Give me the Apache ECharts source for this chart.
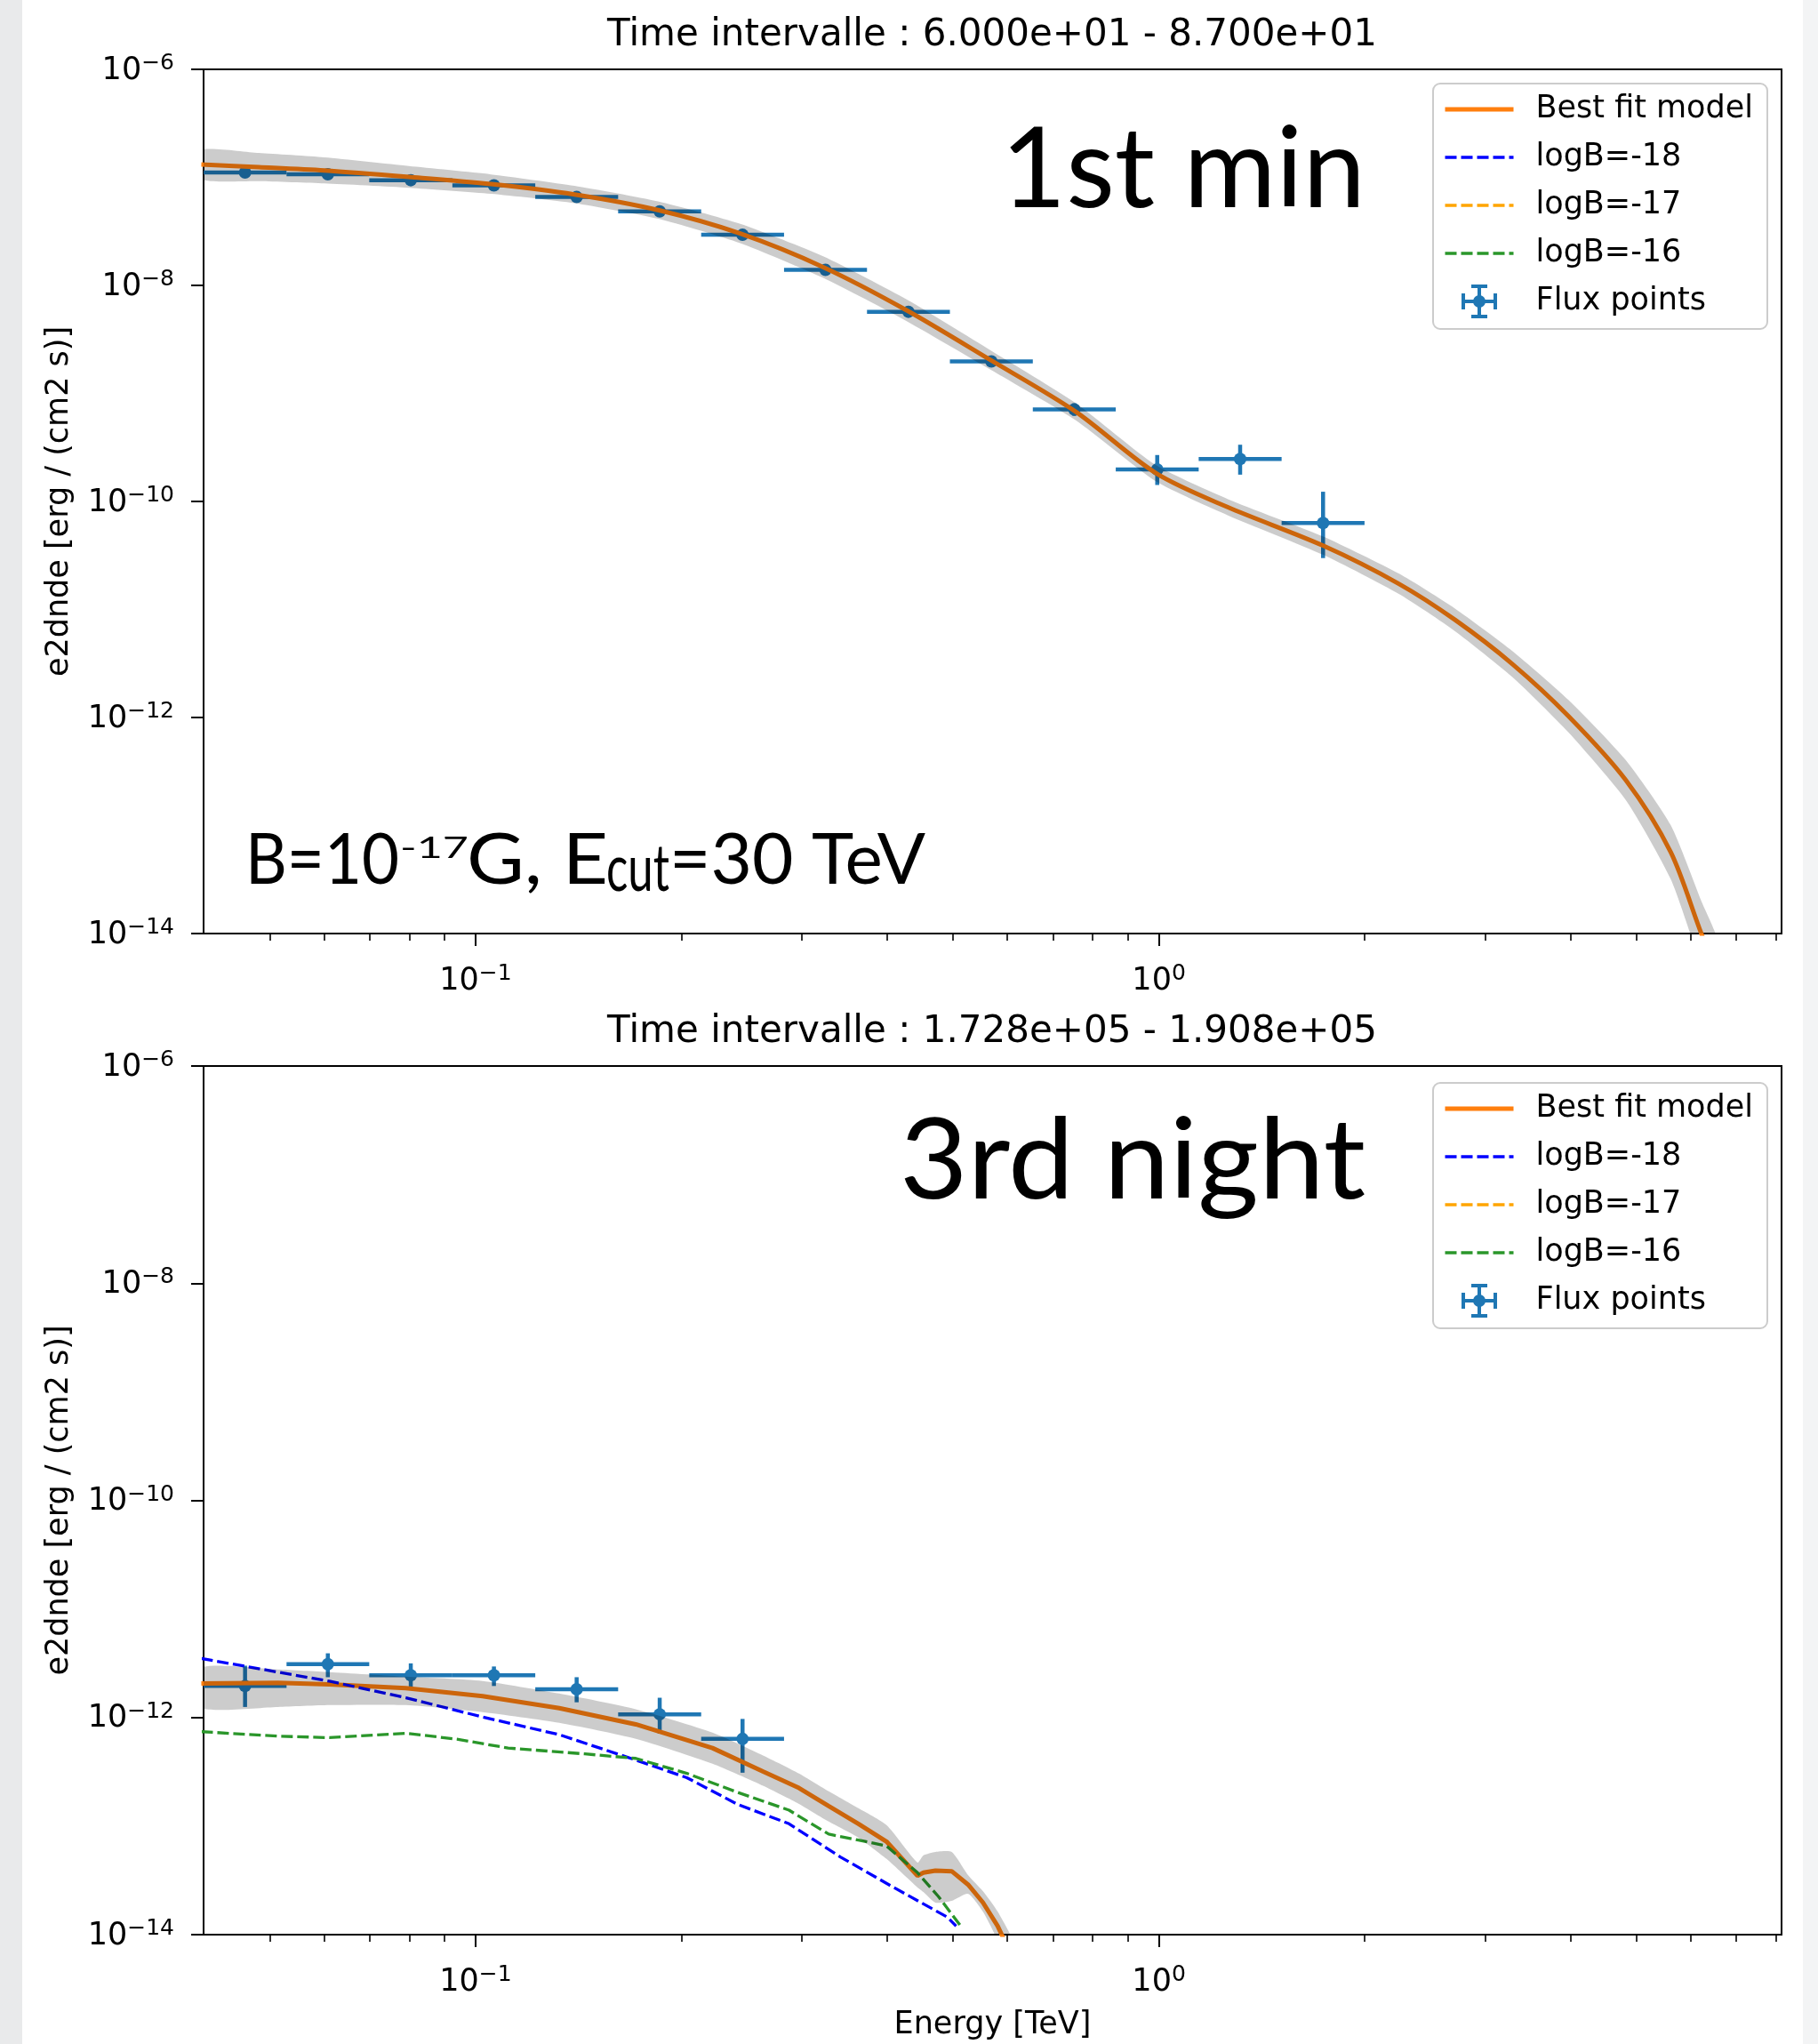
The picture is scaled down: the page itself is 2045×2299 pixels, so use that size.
<!DOCTYPE html>
<html>
<head>
<meta charset="utf-8">
<script src="https://cdn.jsdelivr.net/npm/echarts@6.0.0/dist/echarts.min.js"></script>
<style>
html,body{margin:0;padding:0;background:#ffffff;}
#chart{width:2045px;height:2299px;}
</style>
</head>
<body>
<div id="chart"></div>
<script>
// ---------------- data ----------------
// energy bins [TeV]
const binLo = [0.0400,0.0529,0.0699,0.0925,0.1223,0.1617,0.2139,0.2828,0.3740,0.4945,0.6539,0.8647,1.1435,1.5121];
const binHi = [0.0529,0.0699,0.0925,0.1223,0.1617,0.2139,0.2828,0.3740,0.4945,0.6539,0.8647,1.1435,1.5121,1.9995];
const binCenter = [0.0460,0.0608,0.0804,0.1064,0.1406,0.1860,0.2459,0.3252,0.4300,0.5687,0.7520,0.9944,1.3149,1.7388];

// panel 1 : 60 - 87 s (1st min) flux points
const fluxMin   = [1.11e-7,1.07e-7,9.42e-8,8.43e-8,6.58e-8,4.84e-8,2.94e-8,1.39e-8,5.70e-9,1.98e-9,7.10e-10,1.98e-10,2.47e-10,6.32e-11];
const fluxMinLo = [1.07e-7,1.03e-7,9.00e-8,8.05e-8,6.25e-8,4.58e-8,2.76e-8,1.29e-8,5.20e-9,1.78e-9,6.20e-10,1.42e-10,1.77e-10,2.99e-11];
const fluxMinHi = [1.15e-7,1.11e-7,9.85e-8,8.82e-8,6.92e-8,5.11e-8,3.13e-8,1.50e-8,6.25e-9,2.20e-9,8.10e-10,2.69e-10,3.35e-10,1.23e-10];

// panel 1 best fit model and its error band
const modelMinE  = [0.0397,0.0482,0.0601,0.0799,0.1054,0.1396,0.185,0.244,0.3232,0.428,0.567,0.755,0.991,1.262,1.74,2.244,2.712,3.29,3.975,4.823,5.61,6.22,6.6];
const modelMinF  = [1.315e-7,1.245e-7,1.16e-7,1.01e-7,8.67e-8,6.95e-8,4.98e-8,3.02e-8,1.47e-8,5.86e-9,2.04e-9,6.8e-10,1.82e-10,8.83e-11,3.89e-11,1.73e-11,8.02e-12,3.13e-12,1.03e-12,2.63e-13,5.67e-14,1.0e-14,4e-15];
const bandMinLo  = [9.63e-8,9.23e-8,8.80e-8,8.02e-8,7.05e-8,5.78e-8,4.14e-8,2.46e-8,1.168e-8,4.65e-9,1.66e-9,5.66e-10,1.53e-10,7.43e-11,3.2e-11,1.39e-11,6.3e-12,2.37e-12,7.29e-13,1.72e-13,3.19e-14,5.0e-15,2e-15];
const bandMinHi  = [1.795e-7,1.68e-7,1.529e-7,1.272e-7,1.066e-7,8.35e-8,5.99e-8,3.71e-8,1.85e-8,7.38e-9,2.51e-9,8.17e-10,2.16e-10,1.05e-10,4.73e-11,2.15e-11,1.02e-11,4.13e-12,1.455e-12,4.03e-13,1.008e-13,2.0e-14,8e-15];

// panel 2 : 1.728e5 - 1.908e5 s (3rd night) flux points (first 7 bins)
const fluxNight   = [1.95e-12,3.10e-12,2.45e-12,2.45e-12,1.82e-12,1.07e-12,6.35e-13];
const fluxNightLo = [1.25e-12,2.35e-12,1.85e-12,1.95e-12,1.38e-12,7.10e-13,3.10e-13];
const fluxNightHi = [3.00e-12,3.90e-12,3.15e-12,2.95e-12,2.35e-12,1.52e-12,9.70e-13];

// panel 2 best fit model and band
const modelNightE = [0.0397,0.0514,0.0611,0.0791,0.1024,0.1326,0.1716,0.2222,0.2639,0.2974,0.3287,0.3633,0.3994,0.4434,0.4523,0.471,0.4975,0.5257,0.5526,0.5809,0.62];
const modelNightF = [2.06e-12,2.09e-12,2.02e-12,1.86e-12,1.57e-12,1.22e-12,8.65e-13,5.23e-13,3.16e-13,2.24e-13,1.53e-13,1.05e-13,7.2e-14,3.49e-14,3.72e-14,3.89e-14,3.84e-14,2.89e-14,1.98e-14,1.2e-14,5e-15];
const bandNightLo = [1.23e-12,1.25e-12,1.30e-12,1.30e-12,1.12e-12,8.93e-13,6.36e-13,3.75e-13,2.34e-13,1.60e-13,1.10e-13,7.82e-14,4.98e-14,2.72e-14,2.47e-14,1.97e-14,2.05e-14,2.38e-14,1.63e-14,8.77e-15,3e-15];
const bandNightHi = [2.88e-12,2.77e-12,2.62e-12,2.38e-12,2.17e-12,1.66e-12,1.19e-12,7.26e-13,4.45e-13,3.05e-13,2.09e-13,1.46e-13,1.02e-13,4.61e-14,5.37e-14,5.78e-14,5.78e-14,3.54e-14,2.52e-14,1.63e-14,7.2e-15];

// panel 2 template curves
const blueNightE  = [0.0397,0.0611,0.0791,0.1024,0.1326,0.1716,0.2038,0.2421,0.2876,0.3418,0.4059,0.4903,0.505];
const blueNightF  = [3.49e-12,2.16e-12,1.52e-12,1.01e-12,6.95e-13,4.06e-13,2.79e-13,1.58e-13,1.05e-13,5.2e-14,2.8e-14,1.45e-14,1.2e-14];
const greenNightE = [0.0397,0.0514,0.0611,0.0791,0.0939,0.1116,0.1445,0.1716,0.2038,0.2421,0.2876,0.3287,0.3633,0.3994,0.4434,0.4756,0.5128];
const greenNightF = [7.4e-13,6.73e-13,6.52e-13,7.16e-13,6.31e-13,5.23e-13,4.62e-13,4.2e-13,3.06e-13,2.04e-13,1.4e-13,8.43e-14,7.43e-14,6.56e-14,3.72e-14,2.25e-14,1.2e-14];

// axes / ticks
const xMin = 0.04, xMax = 8.15;
const yMin = 1e-14, yMax = 1e-6;
const xMajorTicks = [0.1, 1];
const xMinorTicks = [0.05,0.06,0.07,0.08,0.09,0.2,0.3,0.4,0.5,0.6,0.7,0.8,0.9,2,3,4,5,6,7,8];
const yMajorTicks = [1e-14,1e-12,1e-10,1e-8,1e-6];

const titles = ['Time intervalle : 6.000e+01 - 8.700e+01','Time intervalle : 1.728e+05 - 1.908e+05'];
const legendNames = ['Best fit model','logB=-18','logB=-17','logB=-16','Flux points'];

// ---------------- chart ----------------
const FONT = 'DejaVu Sans';
const ANN = 'Lato';
const BLUE = '#1f77b4';
const chart = echarts.init(document.getElementById('chart'), null, {renderer:'canvas', width:2045, height:2299});

function powLabel(v){
  const e = Math.round(Math.log10(v));
  return '{b|10}{s|' + (e < 0 ? '\u2212' + (-e) : String(e)) + '}';
}
const rich = {
  b:{fontFamily:FONT, fontSize:35, lineHeight:38, color:'#000', verticalAlign:'bottom'},
  s:{fontFamily:FONT, fontSize:25, lineHeight:24, color:'#000', verticalAlign:'top'}
};
const yTickVals = yMajorTicks.map((v,i)=> i===0 ? v*1.000001 : (i===yMajorTicks.length-1 ? v*0.999999 : v));

const grids = [
  {left:229, top:78, width:1775, height:972},
  {left:229, top:1199, width:1775, height:977}
].map(g => Object.assign(g, {show:true, borderColor:'#000', borderWidth:2, backgroundColor:'transparent', containLabel:false}));

const xAxes = [];
const yAxes = [];
[0,1].forEach(gi => {
  xAxes.push({
    type:'log', logBase:10, gridIndex:gi, position:'bottom', min:xMin, max:xMax,
    axisLine:{show:true, onZero:false, lineStyle:{color:'#000', width:2}},
    axisTick:{show:true, inside:false, length:14, lineStyle:{color:'#000', width:2}, customValues:xMajorTicks},
    axisLabel:{show:true, margin:33, customValues:xMajorTicks, formatter:powLabel, rich:rich},
    minorTick:{show:false}, splitLine:{show:false},
    name: gi === 1 ? 'Energy [TeV]' : '', nameLocation:'middle', nameGap:84,
    nameTextStyle:{fontFamily:FONT, fontSize:35, color:'#000'}
  });
  xAxes.push({
    type:'log', logBase:10, gridIndex:gi, position:'bottom', min:xMin, max:xMax,
    axisLine:{show:false},
    axisTick:{show:true, inside:false, length:8, lineStyle:{color:'#000', width:1.6}, customValues:xMinorTicks},
    axisLabel:{show:false}, minorTick:{show:false}, splitLine:{show:false}
  });
  yAxes.push({
    type:'log', logBase:10, gridIndex:gi, position:'left', min:yMin, max:yMax,
    axisLine:{show:true, onZero:false, lineStyle:{color:'#000', width:2}},
    axisTick:{show:true, inside:false, length:14, lineStyle:{color:'#000', width:2}, customValues:yTickVals},
    axisLabel:{show:true, margin:33, customValues:yTickVals, formatter:powLabel, rich:rich},
    minorTick:{show:false}, splitLine:{show:false},
    name:'e2dnde [erg / (cm2 s)]', nameLocation:'middle', nameGap:145,
    nameTextStyle:{fontFamily:FONT, fontSize:35, color:'#000'}
  });
});

function pairs(xs, ys){ return xs.map((x,i)=>[x, ys[i]]); }

function errSeries(xi, yi, E, Elo, Ehi, F, Flo, Fhi){
  return {
    type:'custom', name:'Flux points', xAxisIndex:xi, yAxisIndex:yi, z:2, silent:true,
    data: E.map((e,i)=>[e, F[i], Elo[i], Ehi[i], Flo[i], Fhi[i]]),
    encode:{x:[0,2,3], y:[1,4,5]},
    renderItem(params, api){
      const l = api.coord([api.value(2), api.value(1)]);
      const r = api.coord([api.value(3), api.value(1)]);
      const b = api.coord([api.value(0), api.value(4)]);
      const t = api.coord([api.value(0), api.value(5)]);
      const st = {stroke:BLUE, lineWidth:4.5, fill:null};
      return {type:'group', children:[
        {type:'line', shape:{x1:l[0], y1:l[1], x2:r[0], y2:r[1]}, style:st},
        {type:'line', shape:{x1:b[0], y1:b[1], x2:t[0], y2:t[1]}, style:st}
      ]};
    }
  };
}
function markerSeries(xi, yi, E, F){
  return {type:'scatter', name:'Flux points', xAxisIndex:xi, yAxisIndex:yi, z:2, silent:true,
    symbol:'circle', symbolSize:14, itemStyle:{color:BLUE, opacity:1}, data:pairs(E, F)};
}
function bandSeries(xi, yi, E, lo, hi){
  return {
    type:'custom', name:'model error', xAxisIndex:xi, yAxisIndex:yi, z:5, silent:true,
    data: E.map((e,i)=>[e, lo[i], hi[i]]),
    encode:{x:0, y:[1,2]},
    renderItem(params, api){
      if (params.dataIndex !== 0) return null;
      const pts = [];
      for (let i = 0; i < E.length; i++) pts.push(api.coord([E[i], hi[i]]));
      for (let i = E.length - 1; i >= 0; i--) pts.push(api.coord([E[i], lo[i]]));
      const cs = params.coordSys;
      return {type:'polygon', shape:{points:pts, smooth:0.2}, style:{fill:'rgba(0,0,0,0.2)', stroke:null},
        clipPath:{type:'rect', shape:{x:cs.x, y:cs.y, width:cs.width, height:cs.height}}};
    }
  };
}
function lineSeries(name, xi, yi, data, color, width, dashed, z, smooth){
  return {type:'line', name, xAxisIndex:xi, yAxisIndex:yi, z:z, silent:true, symbol:'none', showSymbol:false,
    smooth: smooth || false, clip:true,
    lineStyle:{color, width, type: dashed ? [13, 5] : 'solid'}, itemStyle:{color},
    data};
}

const series = [
  // panel 1
  markerSeries(0, 0, binCenter, fluxMin),
  errSeries(0, 0, binCenter, binLo, binHi, fluxMin, fluxMinLo, fluxMinHi),
  lineSeries('Best fit model', 0, 0, pairs(modelMinE, modelMinF), '#ff7f0e', 5, false, 3, 0.3),
  lineSeries('logB=-18', 0, 0, [], '#0000ff', 3.3, true, 3),
  lineSeries('logB=-17', 0, 0, [], '#ffa500', 3.3, true, 3),
  lineSeries('logB=-16', 0, 0, [], '#2a962a', 3.3, true, 3),
  bandSeries(0, 0, modelMinE, bandMinLo, bandMinHi),
  // panel 2
  markerSeries(2, 1, binCenter.slice(0, fluxNight.length), fluxNight),
  errSeries(2, 1, binCenter.slice(0, fluxNight.length), binLo, binHi, fluxNight, fluxNightLo, fluxNightHi),
  lineSeries('Best fit model', 2, 1, pairs(modelNightE, modelNightF), '#ff7f0e', 5, false, 3),
  lineSeries('logB=-18', 2, 1, pairs(blueNightE, blueNightF), '#0000ff', 3.3, true, 3),
  lineSeries('logB=-17', 2, 1, [], '#ffa500', 3.3, true, 3),
  lineSeries('logB=-16', 2, 1, pairs(greenNightE, greenNightF), '#2a962a', 3.3, true, 3),
  bandSeries(2, 1, modelNightE, bandNightLo, bandNightHi)
];

const fluxIcon = 'path://M0 17h40v4H0z M18 0h4v38h-4z M0 10h4v18H0z M36 10h4v18h-4z M11 0h18v4H11z M11 34h18v4H11z M27 19a7 7 0 1 1-14 0a7 7 0 1 1 14 0z';
function makeLegend(top){
  return {
    show:true, orient:'vertical', left:1612, top:top, z:20, selectedMode:false,
    itemWidth:77, itemHeight:38, itemGap:16, padding:[10,16,12,11],
    backgroundColor:'rgba(255,255,255,0.8)', borderColor:'#cccccc', borderWidth:2, borderRadius:8,
    lineStyle:{width:'inherit', type:'inherit'},
    textStyle:{fontFamily:FONT, fontSize:35, lineHeight:38, color:'#000', padding:[0,0,0,20]},
    data: legendNames.map(n => n === 'Flux points'
      ? {name:n, icon:fluxIcon, itemStyle:{opacity:1}}
      : {name:n, itemStyle:{opacity:0}})
  };
}

// annotation texts
const mctx = document.createElement('canvas').getContext('2d');
function tw(txt, size, fam){ mctx.font = size + 'px "' + fam + '"'; return mctx.measureText(txt).width; }
const MID = 0.387; // distance (in em) from the middle line to the baseline for Lato
function txt(text, x, y, size, fam, align, sx, sy){
  return {type:'text', x:x, y:y, scaleX:sx || 1, scaleY:sy || 1, z:30, silent:true, style:{
    text:text, x:0, y:0, fill:'#000', font: size + 'px "' + fam + '"', fontSize:size, fontFamily:fam,
    align:align, textAlign:align, verticalAlign:'middle', textVerticalAlign:'middle'}};
}
// place a Lato string so it spans [x0, x1] horizontally, with the given baseline and glyph size
function fitText(text, x0, x1, baseline, size, sy){
  const w = tw(text, size, ANN);
  const sx = (x1 - x0) / w;
  sy = sy || 1;
  return txt(text, x0, baseline - MID * size * sy, size, ANN, 'left', sx, sy);
}
const graphics = [
  {type:'rect', shape:{x:0, y:0, width:25, height:2299}, style:{fill:'#e9eaeb'}, z:0, silent:true},
  {type:'rect', shape:{x:2028, y:0, width:17, height:2299}, style:{fill:'#f3f4f5'}, z:0, silent:true},
  txt(titles[0], 1116, 40, 42, FONT, 'center'),
  txt(titles[1], 1116, 1161, 42, FONT, 'center'),
  fitText('1st min', 1126, 1536, 241, 127),
  fitText('3rd night', 1012, 1536, 1356, 127),
  fitText('B=10', 276, 449, 999, 80),
  fitText('-17', 450, 527, 967, 46, 0.72),
  fitText('G, E', 525, 684, 999, 80),
  fitText('cut', 682, 753, 1007, 56, 1.3),
  fitText('=30 TeV', 753, 1041, 999, 80)
];

chart.setOption({
  animation:false,
  backgroundColor:'#ffffff',
  textStyle:{fontFamily:FONT},
  grid:grids,
  xAxis:xAxes,
  yAxis:yAxes,
  legend:[makeLegend(94), makeLegend(1218)],
  series:series,
  graphic:{elements:graphics}
});
</script>
</body>
</html>
